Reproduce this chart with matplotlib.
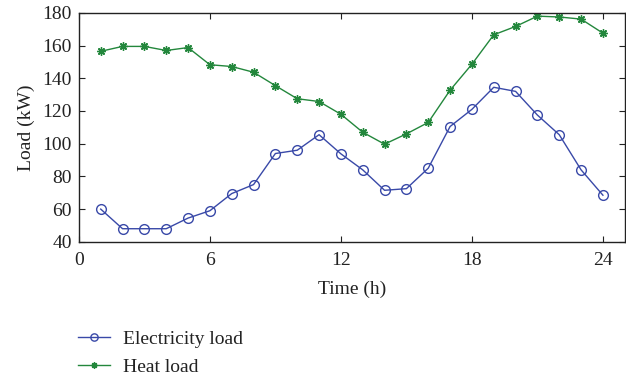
import matplotlib.pyplot as plt

hours = list(range(1, 25))
electricity = [60, 48, 48, 48, 54.5, 59, 69.5, 75, 94, 96, 105.5, 93.8,
               84, 71.5, 72.5, 85, 110.5, 121, 134.5, 132, 117.5, 105.5, 84, 68.5]
heat = [156.5, 159.5, 159.5, 157, 158.8, 148.3, 147.2, 143.7, 135.5, 127.5,
        125.8, 118, 107, 99.7, 106, 113, 132.7, 148.6, 166.6, 171.7,
        178, 177.5, 176.2, 167.6]

blue = '#3949a8'
green = '#23873c'

plt.rcParams['font.family'] = ['Liberation Serif', 'DejaVu Serif']
plt.rcParams['font.size'] = 14

fig = plt.figure(figsize=(6.26, 3.79), dpi=100)
ax = fig.add_axes([0.126, 0.362, 0.872, 0.604])

ax.plot(hours, electricity, color=blue, lw=1.0, marker='o', ms=7,
        mfc='none', mec=blue, mew=1.0, label='Electricity load')
ax.plot(hours, heat, color=green, lw=1.0, marker=(8, 2, 0), ms=6,
        mec=green, mew=1.0, label='Heat load')

ax.set_xlim(0, 25)
ax.set_ylim(40, 180)
ax.set_xticks([0, 6, 12, 18, 24])
ax.set_yticks(range(40, 181, 20))
ax.tick_params(direction='in', top=True, right=True, length=4, width=0.8,
               colors='#222222', labelcolor='#222222')
ax.tick_params(axis='x', pad=7)
ax.tick_params(axis='y', pad=5)
for s in ax.spines.values():
    s.set_linewidth(1.0)
    s.set_color('#222222')

ax.set_xlabel('Time (h)', color='#222222', labelpad=9)
ax.set_ylabel('Load (kW)', color='#222222', labelpad=5)

fig.legend(loc='upper left', bbox_to_anchor=(0.112, 0.148), frameon=False,
           handlelength=1.65, handletextpad=0.67, labelspacing=0.5,
           markerscale=0.75, borderaxespad=0, labelcolor='#222222')

fig.savefig('out.png', dpi=100)
